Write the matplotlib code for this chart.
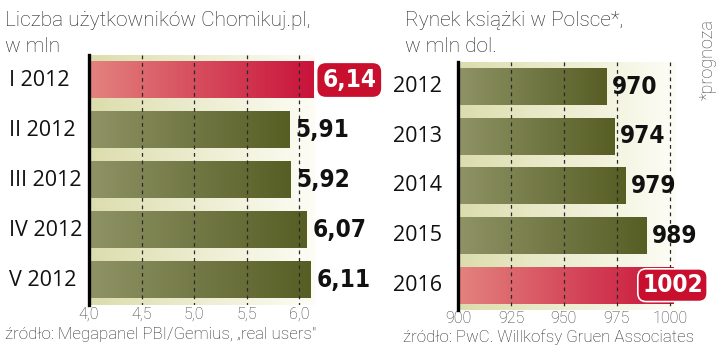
import numpy as np
import matplotlib
matplotlib.use('Agg')
import matplotlib.pyplot as plt
from matplotlib import font_manager
from matplotlib.colors import LinearSegmentedColormap
from matplotlib.transforms import blended_transform_factory

months = ['I 2012', 'II 2012', 'III 2012', 'IV 2012', 'V 2012']
users = [6.14, 5.91, 5.92, 6.07, 6.11]
users_ticks = [4.0, 4.5, 5.0, 5.5, 6.0]

years = ['2012', '2013', '2014', '2015', '2016']
market = [970, 974, 979, 989, 1002]
market_ticks = [900, 925, 950, 975, 1000]

BG = ('#dcddac', '#fdfdf6')
OLIVE = ('#8f9366', '#565e24')
RED = ('#e3837f', '#c9133a')
BOX = '#c8102e'
LIGHT = 'Roboto'

# condensed bold face for the value labels, if one is there
narrow = None
for f in font_manager.fontManager.ttflist:
    if 'Narrow' in f.name or ('Condensed' in f.fname and 'Bold' in f.fname and 'Oblique' not in f.fname):
        narrow = f.fname
        break
if narrow:
    VAL = dict(fontproperties=font_manager.FontProperties(fname=narrow, size=17.5))
else:
    VAL = dict(fontsize=17, fontweight='bold')


def grad(ax, x0, x1, y0, y1, cols, z):
    cm = LinearSegmentedColormap.from_list('g', list(cols))
    ax.imshow(np.linspace(0, 1, 256).reshape(1, -1), cmap=cm,
              extent=[x0, x1, y1, y0], aspect='auto', zorder=z,
              interpolation='bilinear')


def panel(fig, rect, cats, vals, ticks, xmax, hl, fmt, hl_center):
    ax = fig.add_axes(rect)
    n = len(cats)
    xmin = ticks[0]
    grad(ax, xmin, xmax, -0.5, n - 0.5, BG, 0)
    for i, v in enumerate(vals):
        grad(ax, xmin, v, i - 0.37, i + 0.37, RED if i == hl else OLIVE, 2)
    ax.vlines(ticks[1:], -0.5, n - 0.5, colors='#2a2a2a', linewidth=0.9,
              linestyles=(0, (3, 3)), zorder=3)
    ax.set_xlim(xmin, xmax)
    ax.set_ylim(n - 0.5, -0.5)
    ax.set_yticks([])
    ax.set_xticks(ticks)
    ax.set_xticklabels([fmt(t) for t in ticks], fontfamily=LIGHT,
                       fontsize=11.5, fontweight='light', color='#3a3a3a')
    ax.tick_params(axis='x', length=0, pad=1)
    for s in ['top', 'right', 'bottom']:
        ax.spines[s].set_visible(False)
    ax.spines['left'].set_linewidth(2.4)
    ax.spines['left'].set_color('black')
    ax.spines['left'].set_zorder(5)
    for i, v in enumerate(vals):
        lab = fmt(v)
        if i == hl:
            if hl_center:
                ax.annotate(lab, (v, i), xytext=(-1, 0), textcoords='offset points',
                            ha='center', va='center', color='white', zorder=6,
                            bbox=dict(boxstyle='round,pad=0.18,rounding_size=0.35',
                                      fc=BOX, ec='white', lw=1.2), **VAL)
            else:
                ax.annotate(lab, (v, i), xytext=(6, 0), textcoords='offset points',
                            ha='left', va='center', color='white', zorder=6,
                            bbox=dict(boxstyle='round,pad=0.2,rounding_size=0.35',
                                      fc=BOX, ec='none'), **VAL)
        else:
            ax.annotate(lab, (v, i), xytext=(4, 0), textcoords='offset points',
                        ha='left', va='center', color='#111111', zorder=6,
                        annotation_clip=False, **VAL)
    return ax


fig = plt.figure(figsize=(7.2, 3.54), dpi=100)
fig.patch.set_facecolor('white')

fmt_pl = lambda x: ('%.2f' % x).replace('.', ',') if round(x, 1) != x else ('%.1f' % x).replace('.', ',')
fmt_int = lambda x: '%d' % x

ax1 = panel(fig, [89 / 720, 49 / 354, 226 / 720, 250 / 354], months, users,
            users_ticks, 6.15, 0, fmt_pl, False)
ax2 = panel(fig, [458 / 720, 44 / 354, 218 / 720, 248 / 354], years, market,
            market_ticks, 1003, 4, fmt_int, True)

tr1 = blended_transform_factory(fig.transFigure, ax1.transData)
for i, c in enumerate(months):
    fig.text(9 / 720, i, c, transform=tr1, ha='left', va='center',
             fontsize=15.5, family='Open Sans', color='#111111')
tr2 = blended_transform_factory(fig.transFigure, ax2.transData)
for i, c in enumerate(years):
    fig.text(393 / 720, i, c, transform=tr2, ha='left', va='center',
             fontsize=15.5, family='Open Sans', color='#111111')

fig.text(5 / 720, 1 - 20 / 354, 'Liczba użytkowników Chomikuj.pl,', ha='left', va='center',
         fontsize=15, family=LIGHT, fontweight='light', color='#222222')
fig.text(5 / 720, 1 - 46 / 354, 'w mln', ha='left', va='center',
         fontsize=15, family=LIGHT, fontweight='light', color='#222222')
fig.text(405 / 720, 1 - 20 / 354, 'Rynek książki w Polsce*,', ha='left', va='center',
         fontsize=15, family=LIGHT, fontweight='light', color='#222222')
fig.text(405 / 720, 1 - 46 / 354, 'w mln dol.', ha='left', va='center',
         fontsize=15, family=LIGHT, fontweight='light', color='#222222')

fig.text(5 / 720, 1 - 334 / 354, 'źródło: Megapanel PBI/Gemius, „real users"', ha='left',
         va='center', fontsize=12.2, family=LIGHT, fontweight='light', color='#2a2a2a')
fig.text(403 / 720, 1 - 337 / 354, 'źródło: PwC. Willkofsy Gruen Associates', ha='left',
         va='center', fontsize=12.2, family=LIGHT, fontweight='light', color='#2a2a2a')
fig.text(708 / 720, 1 - 60 / 354, '*prognoza', rotation=90, ha='center', va='center',
         fontsize=13, family=LIGHT, fontweight='light', color='#444444')

plt.savefig('out.png', dpi=100)
